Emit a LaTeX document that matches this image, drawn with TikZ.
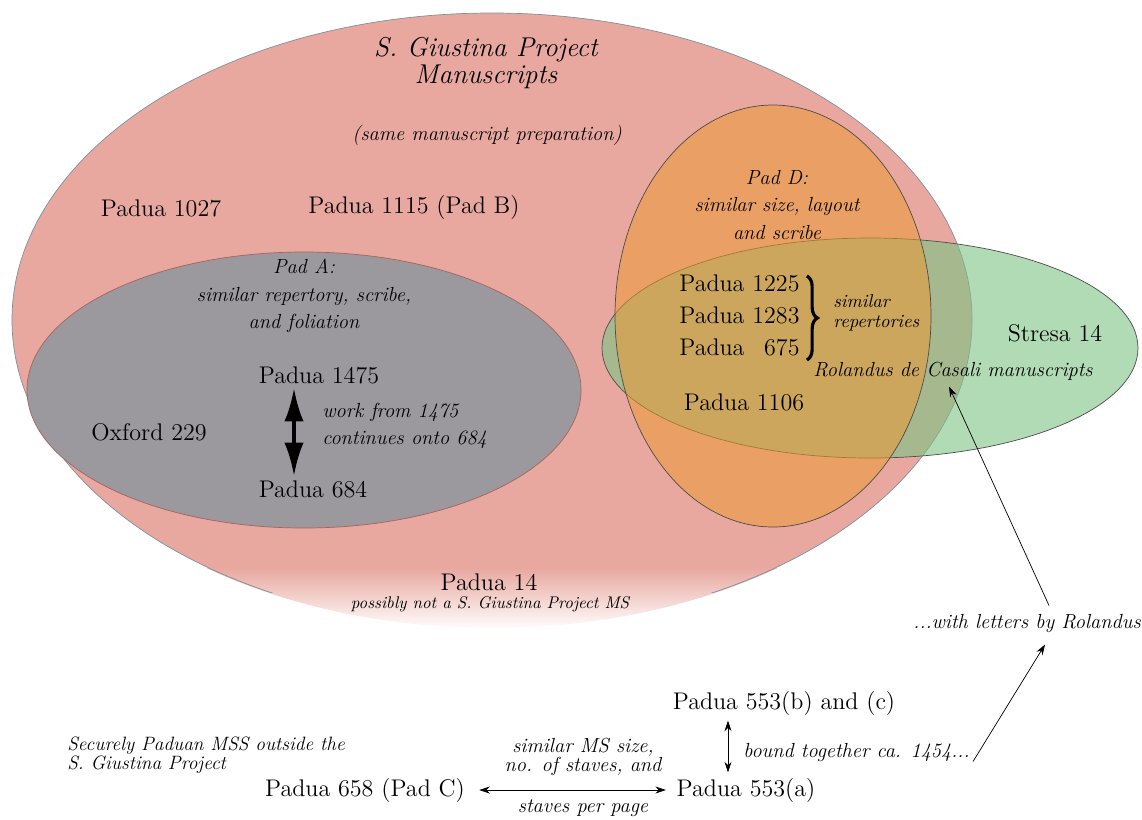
\documentclass[tikz,border=0pt]{standalone}
\usetikzlibrary{calc}
\usetikzlibrary{positioning}
\usetikzlibrary{arrows.meta}
\usetikzlibrary{decorations.pathreplacing}
\definecolor{projPink}{RGB}{232,168,160}
\definecolor{projEdge}{RGB}{125,145,155}
\definecolor{padAGray}{RGB}{155,152,158}
\definecolor{padAEdge}{RGB}{165,100,95}
\definecolor{padDOrange}{RGB}{236,153,51}
\definecolor{rolGreen}{RGB}{123,195,130}
\tikzstyle{msnode} = [inner sep=0pt, font=\fontsize{13.7}{16}\selectfont]
\tikzstyle{notenode} = [inner sep=0pt, font=\fontsize{11.6}{15.5}\selectfont\itshape]
\tikzstyle{smallnote} = [inner sep=0pt, font=\fontsize{9.6}{12}\selectfont\itshape]
\tikzstyle{titlenode} = [inner sep=0pt, align=center, font=\fontsize{15.5}{15.5}\selectfont\itshape]
\tikzstyle{linkarrow} = [-{Stealth[length=6pt,width=4pt]}, thin]
\tikzstyle{bothlink} = [{Stealth[length=6pt,width=4pt]}-{Stealth[length=6pt,width=4pt]}, thin]
\tikzstyle{bigboth} = [{Latex[length=19pt,width=11pt]}-{Latex[length=19pt,width=11pt]}, line width=2.3pt]
\tikzstyle{repbrace} = [decorate, decoration={brace, amplitude=6pt}, line width=1.8pt]

\begin{document}
\begin{tikzpicture}[x=0.02cm, y=-0.02cm]
\useasboundingbox (0,0) rectangle (1142,819);

% the sets
\coordinate (proj) at (492,320);
\fill[projPink] (proj) ellipse [x radius=480, y radius=307];
\begin{scope}
    \clip (proj) ellipse [x radius=481, y radius=308];
    \shade[top color=projPink, bottom color=white] (0,568) rectangle (1142,630);
\end{scope}
\begin{scope}
    \clip (0,0) rectangle (1142,592);
    \draw[projEdge, thin] (proj) ellipse [x radius=480, y radius=307];
\end{scope}
\filldraw[fill=padAGray, draw=padAEdge, thin] (304,390) ellipse [x radius=277, y radius=138];
\filldraw[fill=rolGreen, fill opacity=0.6, draw=black!70, thin] (870,348) ellipse [x radius=268, y radius=110];
\filldraw[fill=padDOrange, fill opacity=0.55, draw=black!70, thin] (773,316) ellipse [x radius=158, y radius=211];

% S. Giustina Project
\node[titlenode] (title) at (486,63) {S. Giustina Project\\Manuscripts};
\node[notenode] (prep) at (487,135) {(same manuscript preparation)};
\node[msnode] (pad1027) at (161,208) {Padua 1027};
\node[msnode] (pad1115) at (414,207) {Padua 1115 (Pad B)};
\node[msnode] (pad14) at (489,582) {Padua 14};
\node[smallnote] (notproj) at ($(pad14)+(1,22)$) {possibly not a S. Giustina Project MS};

% Pad A
\node[notenode, align=center] (padA) at (304,296) {Pad A:\\similar repertory, scribe,\\and foliation};
\node[msnode] (pad1475) at (319,375) {Padua 1475};
\node[msnode] (pad684) at (313,489) {Padua 684};
\node[msnode] (oxf229) at (149,432) {Oxford 229};
\node[notenode, align=left, anchor=west] (contin) at (322,426) {work from 1475\\continues onto 684};
\coordinate (arrowtop) at ($(pad1475.south)+(-25,4)$);
\draw[bigboth] (arrowtop) -- ($(arrowtop |- pad684.north)+(0,-4)$);

% Pad D and Rolandus
\node[notenode, align=center] (padD) at (777,205) {Pad D:\\similar size, layout\\and scribe};
\node[msnode, anchor=west] (pad1225) at (679,283) {Padua 1225};
\node[msnode, anchor=west] (pad1283) at ($(pad1225.west)+(0,32)$) {Padua 1283};
\node[msnode, anchor=west] (pad675) at ($(pad1283.west)+(0,32)$) {Padua \phantom{1}675};
\coordinate (bracetop) at ($(pad1225.east)+(7,-7)$);
\coordinate (bracebot) at (bracetop |- pad675.south);
\draw[repbrace] (bracetop) -- ($(bracebot)+(0,4)$);
\node[smallnote, font=\fontsize{10.6}{11.5}\selectfont\itshape, align=left, anchor=west] (simrep) at (833,313) {similar\\repertories};
\node[notenode] (rolandus) at (953,371) {Rolandus de Casali manuscripts};
\node[msnode] (stresa) at (1055,333) {Stresa 14};
\node[msnode] (pad1106) at (744,402) {Padua 1106};
\node[notenode, anchor=east] (letters) at (1141,623) {...with letters by Rolandus};
\draw[linkarrow] ($(letters.north)+(22,-8)$) -- ($(rolandus.south)+(-4,6)$);

% outside the project
\node[notenode, font=\fontsize{11}{11}\selectfont\itshape, align=left, anchor=west] (secure) at (67,755) {Securely Paduan MSS outside the\\S. Giustina Project};
\node[msnode] (pad658) at (365,790) {Padua 658 (Pad C)};
\node[msnode] (pad553a) at (746,790) {Padua 553(a)};
\node[msnode] (pad553bc) at (784,703) {Padua 553(b) and (c)};
\node[notenode, anchor=west] (bound) at (743,752) {bound together ca. 1454...};
\node[notenode, font=\fontsize{11.6}{11}\selectfont\itshape, align=center] (simsize) at (583,757) {similar MS size,\\no. of staves, and};
\node[notenode] (perpage) at (583,808) {staves per page};
\draw[bothlink, shorten <=8pt, shorten >=6pt] (pad658.east) -- (pad553a.west);
\draw[bothlink, shorten <=3pt, shorten >=3pt] ([xshift=-0.3cm]bound.west |- pad553bc.south) -- ([xshift=-0.3cm]bound.west |- pad553a.north);
\draw[linkarrow] ($(bound.south east)+(3,0)$) -- ($(letters.south)+(18,12)$);
\end{tikzpicture}
\end{document}
